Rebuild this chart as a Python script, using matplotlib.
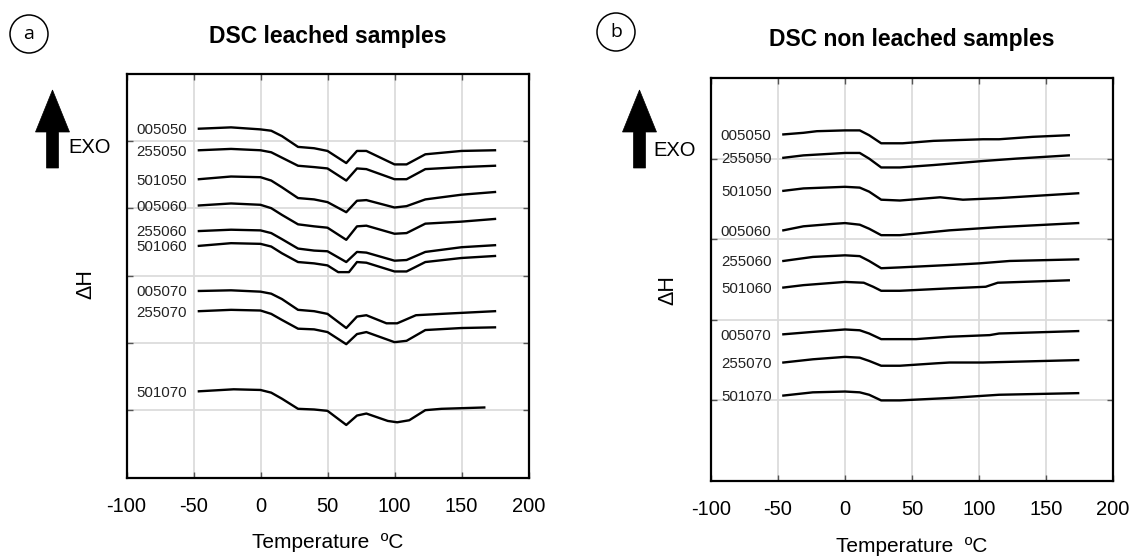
import matplotlib
matplotlib.use("Agg")
import matplotlib.pyplot as plt
from matplotlib.patches import Polygon, Circle
from matplotlib.transforms import Affine2D

W, H = 1133, 556

# ---- DSC leached samples (panel a) ----
leached_names = ["005050", "255050", "501050", "005060", "255060",
                 "501060", "005070", "255070", "501070"]
leached_T = [
    [-46, -22, 0, 8, 16, 28, 40, 50, 64, 72, 79, 100, 109, 123, 150, 175],
    [-46, -22, 0, 8, 16, 28, 40, 50, 64, 72, 79, 100, 109, 123, 150, 175],
    [-46, -22, 0, 8, 16, 28, 40, 50, 64, 72, 79, 100, 109, 123, 150, 175],
    [-46, -22, 0, 8, 16, 28, 40, 50, 64, 72, 79, 100, 109, 123, 150, 175],
    [-46, -22, 0, 8, 16, 28, 40, 50, 64, 72, 79, 100, 109, 123, 150, 175],
    [-46, -22, 0, 8, 16, 28, 40, 50, 58, 66, 72, 79, 100, 109, 123, 150, 175],
    [-46, -22, 0, 8, 16, 28, 40, 50, 64, 72, 79, 94, 102, 116, 135, 175],
    [-46, -22, 0, 8, 16, 28, 40, 50, 64, 72, 79, 100, 109, 123, 150, 175],
    [-46, -20, 0, 8, 16, 28, 40, 50, 64, 72, 79, 95, 102, 111, 123, 135, 167],
]
leached_dH = [
    [51.8, 52.0, 51.7, 51.5, 50.7, 49.1, 48.9, 48.5, 46.7, 48.5, 48.5, 46.5, 46.5, 48.0, 48.5, 48.6],
    [48.6, 48.8, 48.6, 48.3, 47.5, 46.3, 46.1, 45.9, 44.1, 45.9, 45.8, 44.3, 44.3, 45.8, 46.1, 46.3],
    [44.3, 44.7, 44.6, 44.1, 43.1, 41.5, 41.3, 40.9, 39.4, 41.1, 41.2, 40.1, 40.3, 41.3, 42.0, 42.4],
    [40.4, 40.7, 40.5, 40.0, 39.0, 37.6, 37.3, 37.1, 35.3, 37.3, 37.4, 36.2, 36.3, 37.7, 38.0, 38.4],
    [36.6, 36.8, 36.7, 36.3, 35.4, 34.0, 33.7, 33.6, 32.0, 33.5, 33.4, 32.2, 32.3, 33.5, 34.2, 34.5],
    [34.4, 34.8, 34.7, 34.3, 33.3, 32.0, 31.8, 31.5, 30.5, 30.5, 32.0, 31.9, 30.6, 30.6, 32.0, 32.6, 32.9],
    [27.7, 27.8, 27.6, 27.3, 26.5, 24.9, 24.7, 24.3, 22.2, 23.9, 24.1, 22.9, 22.9, 24.1, 24.3, 24.7],
    [24.7, 24.9, 24.8, 24.3, 23.4, 22.1, 22.0, 21.6, 19.8, 21.3, 21.6, 20.1, 20.3, 21.9, 22.2, 22.3],
    [12.8, 13.1, 13.0, 12.6, 11.7, 10.2, 10.1, 9.9, 7.8, 9.2, 9.5, 8.4, 8.2, 8.5, 10.0, 10.2, 10.4],
]

# ---- DSC non leached samples (panel b) ----
nonleached_names = leached_names
nonleached_T = [
    [-46, -31, -21, 0, 11, 18, 27, 43, 66, 103, 115, 140, 167],
    [-46, -31, 0, 11, 18, 27, 41, 66, 103, 128, 167],
    [-46, -31, 0, 11, 18, 27, 41, 71, 88, 115, 174],
    [-46, -31, -9, 0, 11, 18, 27, 41, 78, 115, 174],
    [-46, -24, 0, 11, 18, 27, 41, 78, 100, 123, 174],
    [-46, -31, 0, 14, 21, 27, 41, 78, 105, 114, 167],
    [-46, -24, 0, 11, 18, 27, 53, 78, 108, 115, 174],
    [-46, -24, 0, 11, 18, 27, 41, 68, 78, 103, 174],
    [-46, -24, 0, 11, 18, 27, 41, 78, 115, 174],
]
nonleached_dH = [
    [43.0, 43.2, 43.4, 43.5, 43.5, 42.9, 41.9, 41.9, 42.2, 42.4, 42.4, 42.7, 42.9],
    [40.1, 40.4, 40.7, 40.7, 40.0, 38.9, 38.9, 39.2, 39.7, 40.0, 40.4],
    [36.0, 36.3, 36.5, 36.4, 35.9, 34.9, 34.8, 35.2, 34.9, 35.1, 35.7],
    [31.1, 31.6, 31.9, 32.0, 31.8, 31.3, 30.5, 30.5, 31.1, 31.5, 32.0],
    [27.3, 27.8, 28.0, 27.9, 27.3, 26.4, 26.5, 26.8, 27.0, 27.3, 27.5],
    [24.0, 24.3, 24.7, 24.6, 24.1, 23.6, 23.6, 23.9, 24.1, 24.6, 24.9],
    [18.2, 18.5, 18.8, 18.7, 18.3, 17.6, 17.6, 17.9, 18.1, 18.3, 18.6],
    [14.7, 15.1, 15.4, 15.3, 14.9, 14.3, 14.3, 14.6, 14.7, 14.7, 15.0],
    [10.6, 11.0, 11.1, 11.0, 10.7, 10.0, 10.0, 10.3, 10.7, 10.9],
]

x_ticks = [-100, -50, 0, 50, 100, 150, 200]

plt.rcParams['font.family'] = ['Liberation Sans', 'DejaVu Sans']

fig = plt.figure(figsize=(W / 100, H / 100), dpi=100)
# pixel coordinates, origin top-left
px = Affine2D().scale(1.0 / W, -1.0 / H).translate(0, 1) + fig.transFigure


def panel(rect, names, temps, dhs, ymax, title, title_y, letter, letter_xy,
          arrow_x, exo_x, exo_y, dh_xy, xlabel_y):
    ax = fig.add_axes(rect)
    for name, t, d in zip(names, temps, dhs):
        ax.plot(t, d, color='black', lw=1.7, solid_joinstyle='round')
        ax.annotate(name, xy=(t[0], d[0]), xytext=(-8.5, -3.9),
                    textcoords='offset points', ha='right', va='baseline',
                    fontsize=10.8, color='#222222')
    ax.set_xlim(-100, 200)
    ax.set_ylim(0, ymax)
    ax.set_xticks(x_ticks)
    ax.set_xticklabels([str(v) for v in x_ticks])
    ax.set_yticks(range(10, ymax, 10))
    ax.set_yticklabels([])
    ax.grid(True, color='#dcdcdc', lw=1.3)
    ax.set_axisbelow(True)
    ax.tick_params(direction='in', length=4, width=1, color='#555555',
                   top=True, right=True, labelsize=14.5, pad=14)
    for s in ax.spines.values():
        s.set_linewidth(1.6)

    cx = (rect[0] + rect[2] / 2) * W
    fig.text(cx, title_y, title, transform=px, ha='center', va='baseline',
             fontsize=16.5, fontweight='bold')
    fig.text(cx, xlabel_y, 'Temperature  \u00baC', transform=px,
             ha='center', va='baseline', fontsize=15)

    # circled panel letter
    fig.add_artist(Circle(letter_xy, 19, transform=px, fill=False,
                          lw=1.1, ec='black'))
    fig.text(letter_xy[0], letter_xy[1], letter, transform=px, ha='center',
             va='center', fontsize=14, family=['Open Sans', 'DejaVu Sans'])

    # EXO arrow
    tip, hb, bot = 90, 132, 168
    hw, sw = 17, 6
    pts = [(arrow_x, tip), (arrow_x + hw, hb), (arrow_x + sw, hb),
           (arrow_x + sw, bot), (arrow_x - sw, bot), (arrow_x - sw, hb),
           (arrow_x - hw, hb)]
    fig.add_artist(Polygon(pts, closed=True, transform=px, fc='black',
                           ec='black', lw=0.5))
    fig.text(exo_x, exo_y, 'EXO', transform=px, ha='left', va='baseline',
             fontsize=14.5)
    fig.text(dh_xy[0], dh_xy[1], '\u0394H', transform=px, ha='center',
             va='center', rotation=90, fontsize=15.5)
    return ax


panel([126.5 / W, 1 - 477.5 / H, 402.0 / W, 404.0 / H],
      leached_names, leached_T, leached_dH, 60,
      'DSC leached samples', 43, 'a', (29, 34),
      52.5, 68, 153, (86, 284), 548)
panel([711.0 / W, 1 - 481.0 / H, 402.0 / W, 403.0 / H],
      nonleached_names, nonleached_T, nonleached_dH, 50,
      'DSC non leached samples', 46, 'b', (616, 32),
      639.5, 653, 156, (668, 290), 552)

fig.savefig('out.png', dpi=100)
